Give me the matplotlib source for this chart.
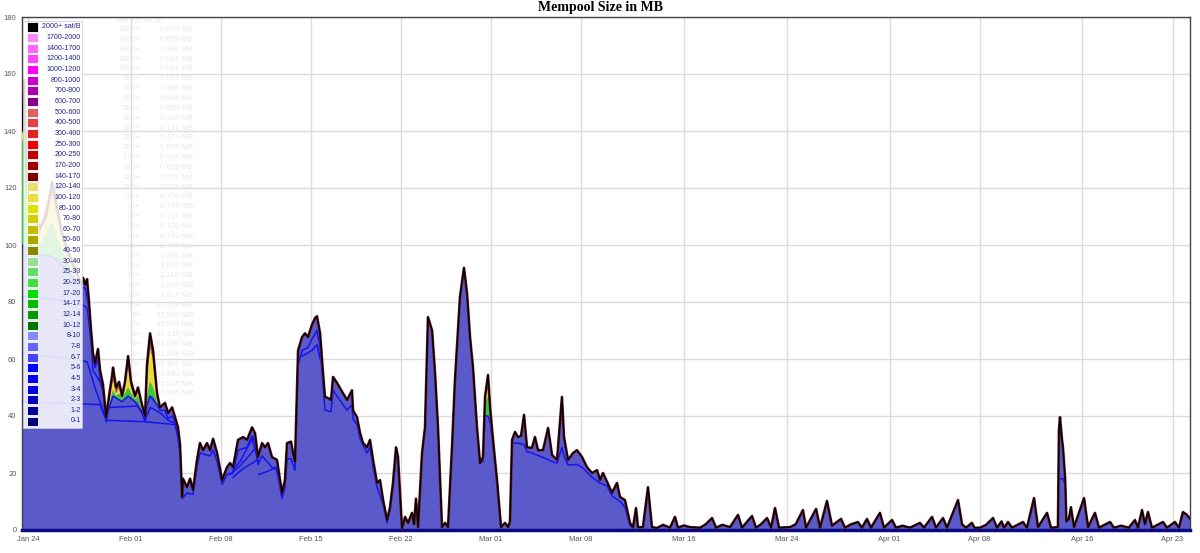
import numpy as np
import matplotlib
matplotlib.use("Agg")
import matplotlib.pyplot as plt
import matplotlib.dates as mdates
from matplotlib.patches import Rectangle
from datetime import datetime

# ---- data (days since 2018-01-24, MB) -------------------------------------
START = datetime(2018, 1, 24)

total_days = [
    -0.47, -0.31, -0.16, 0.00, 0.39, 0.93, 1.40, 1.87, 2.18, 2.64, 3.27, 3.89,
    4.12, 4.28, 4.43, 4.59, 4.74, 4.90, 5.05, 5.21, 5.37, 5.44, 5.60, 5.83,
    6.07, 6.30, 6.53, 6.61, 6.84, 7.08, 7.31, 7.54, 7.78, 8.01, 8.32, 8.55,
    8.86, 9.10, 9.25, 9.49, 9.72, 10.03, 10.26, 10.65, 10.89, 11.20, 11.43,
    11.66, 11.82, 11.98, 12.05, 12.36, 12.60, 12.83, 13.14, 13.37, 13.61,
    13.92, 14.15, 14.39, 14.70, 15.09, 15.47, 15.71, 15.94, 16.33, 16.72,
    17.03, 17.42, 17.65, 17.88, 18.20, 18.43, 18.66, 18.97, 19.36, 19.75,
    19.98, 20.14, 20.45, 20.61, 20.76, 21.00, 21.31, 21.54, 21.77, 22.08,
    22.32, 22.47, 22.71, 22.94, 23.09, 23.33, 23.56, 23.72, 24.03, 24.26,
    24.49, 24.81, 25.19, 25.27, 25.58, 25.82, 26.05, 26.36, 26.59, 26.83,
    27.14, 27.37, 27.61, 27.92, 28.15, 28.38, 28.62, 28.77, 29.08, 29.32,
    29.55, 29.86, 30.02, 30.17, 30.33, 30.64, 30.87, 31.10, 31.42, 31.65,
    31.88, 32.19, 32.43, 32.66, 32.97, 33.20, 33.59, 33.90, 34.14, 34.37,
    34.60, 34.91, 35.15, 35.38, 35.54, 35.77, 35.93, 36.16, 36.47, 36.78,
    37.09, 37.33, 37.48, 37.64, 37.87, 38.10, 38.34, 38.57, 38.80, 39.19,
    39.42, 39.66, 40.05, 40.44, 40.75, 41.14, 41.52, 41.68, 41.99, 42.38,
    42.69, 43.08, 43.47, 43.86, 44.25, 44.48, 44.71, 45.02, 45.41, 45.80,
    46.03, 46.42, 46.81, 47.05, 47.28, 47.43, 47.82, 48.21, 48.52, 48.91,
    49.38, 49.92, 50.31, 50.54, 51.00, 51.48, 52.26, 52.70, 53.19, 53.50,
    54.00, 54.59, 55.21, 55.52, 56.30, 56.61, 57.00, 57.47, 57.78, 58.09,
    58.40, 59.25, 59.70, 60.26, 60.50, 61.28, 61.59, 62.13, 62.52, 63.22,
    63.53, 64.00, 64.54, 64.85, 65.24, 65.55, 66.25, 66.56, 67.19, 67.50,
    68.00, 68.58, 69.36, 69.67, 70.30, 70.61, 71.15, 71.46, 72.32, 72.63,
    72.94, 73.40, 73.60, 74.03, 74.50, 75.04, 75.35, 75.70, 75.90, 76.21,
    76.52, 77.37, 77.68, 78.23, 78.54, 79.24, 79.55, 80.09, 80.17, 80.25,
    80.40, 80.48, 80.65, 80.75, 80.95, 81.10, 81.34, 82.12, 82.43, 82.97,
    83.28, 84.14, 84.45, 85.00, 85.60, 86.08, 86.31, 86.63, 86.86, 87.09,
    87.40, 88.26, 88.57, 89.19, 89.50, 89.81, 90.12, 90.36,
]
total_mb = [
    140, 158, 130, 118, 112, 106, 110, 122, 115, 104, 96, 89,
    86, 88.5, 86, 88, 80, 70, 62, 58.5, 62, 63.5, 56, 51,
    39.6, 47, 54, 57, 50, 52, 47, 52, 61, 52, 47, 50,
    44, 40, 58, 69, 63, 48, 43, 44.6, 41, 43, 39.6,
    36, 30, 11.6, 18, 15, 18, 14, 24.6, 30.5, 28,
    30.5, 28, 32, 27, 17.5, 22, 23.5, 22, 31.6, 32.6,
    31.6, 36, 34, 25.6, 30.5, 29, 30.5, 25.6, 24.6, 13,
    17.5, 30.5, 31, 27, 24, 63, 67.7, 69, 67.7, 72,
    74.4, 75, 69, 55, 46.7, 46.3, 45.6, 53.7, 51.6, 49.8,
    48, 45.6, 49, 42, 39.6, 34, 30.5, 29, 31.6, 24.6,
    16.5, 17.5, 10.5, 3.5, 8, 16.5, 29, 25.6, 0.5, 4.6,
    2.5, 6, 2, 11, 1, 27, 36, 74.7, 70, 55,
    36, 1, 2.5, 1, 29, 52.6, 81.8, 92, 83, 67.7,
    57, 36, 23.5, 25.6, 46.7, 54.4, 43, 31.6, 17.5, 1,
    2.5, 1, 3, 31.6, 34.4, 32.6, 33, 40.4, 29, 28.8,
    32.6, 28, 28, 35.8, 26.3, 24.6, 46.7, 32.6, 24.6, 27,
    28, 25.6, 22, 20, 21, 17.5, 20, 17, 13, 16.5,
    11.6, 10.5, 2.5, 1, 7.7, 1, 1, 15, 1, 0.7,
    1.8, 0.8, 4.6, 0.8, 1.6, 1, 0.8, 2, 4.2, 0.8,
    1.8, 1, 5.3, 0.8, 4.9, 0.8, 2, 4.2, 0.8, 7.7,
    0.8, 1, 2, 7, 0.8, 7.4, 0.8, 10.2, 1.5, 3.9,
    0.8, 2, 2.8, 0.8, 3.9, 0.8, 6, 0.8, 3.5, 0.8,
    1.5, 0.8, 2.5, 0.8, 4.6, 0.8, 4.2, 0.8, 10.5, 2,
    0.8, 2.5, 0.8, 0.8, 1.8, 4.2, 0.8, 3, 0.8, 2.8,
    0.8, 2.8, 0.8, 11.2, 1, 6, 0.8, 1, 35, 39.6,
    32, 29, 18, 3, 4, 8, 1, 11.2, 1, 6,
    0.8, 2.8, 0.8, 1.5, 0.8, 3.5, 0.8, 7, 2, 6.3,
    0.8, 2.8, 0.8, 2.8, 0.8, 6.3, 5.3, 4,
]

# colored fee layers on top of the blue bulk (NaN = gap between episodes)
nan = np.nan
layer_days = [-0.47, -0.31, -0.16, 0.00, 0.93, 1.87, 2.64, 3.27, 3.89, 4.12, 4.2,
              6.07, 6.30, 6.53, 6.61, 6.84, 7.08, 7.31, 7.54, 7.78, 8.01, 8.32,
              8.55, 8.86, 9.10, 9.25, 9.49, 9.72, 10.03, 10.26, 10.3,
              35.38, 35.54, 35.77, 35.93, 36.16]
under_10 = [100, 100, 98, 97, 96, 96, 95, 90, 86, 85, nan,
            38, 43, 46, 47, 46, 46, 45, 46, 47, 46, 45,
            45, 41, 38, 44, 47, 47, 44, 42, nan,
            25, 40, 40, 38, 30]
under_40 = [136, 138, 115, 108, 100, 108, 98, 92, 87, 85.5, nan,
            38.5, 44, 48, 49, 47, 48, 46, 48, 50, 48, 46,
            47, 42, 39, 47, 52, 50, 45, 42.5, nan,
            25, 44, 47, 41, 31]
under_140 = [140, 142, 118, 112, 104, 118, 102, 94, 88, 86, nan,
             39, 45, 51, 53, 48, 50, 46.5, 50, 58, 50, 46.5,
             48.5, 43, 39.5, 54, 64, 60, 46, 43, nan,
             25.3, 45.5, 53, 42.5, 31.3]
layer_total = [140, 158, 130, 118, 106, 122, 104, 96, 89, 86, nan,
               39.6, 47, 54, 57, 50, 52, 47, 52, 61, 52, 47,
               50, 44, 40, 58, 69, 63, 48, 43, nan,
               25.6, 46.7, 54.4, 43, 31.6]

# boundary lines between the low-fee bands (blue lines inside the bulk)
band_lines = [
    ([-0.47, 0.39, 1.87, 3.27, 3.89, 4.12, 4.43, 4.74, 4.90, 5.05, 5.21, 5.44,
      5.60, 5.83, 6.07, 6.30, 6.61, 7.31, 7.78, 8.32, 8.86, 9.10, 9.25, 9.49,
      10.03, 10.26, 10.65, 10.89, 11.20, 11.43, 11.66, 11.82, 11.98, 12.36,
      12.83, 13.14, 13.37, 14.15, 14.39, 14.70, 15.09, 15.47, 15.94, 16.33,
      17.03, 17.42, 17.65, 17.88, 18.20, 18.97, 19.36, 19.75, 19.98, 20.14,
      20.45, 20.76, 21.00, 21.31, 21.77, 22.08, 22.47, 22.71, 22.94, 23.09,
      23.56, 23.72, 24.49, 24.81, 25.19, 25.27, 25.58, 25.82, 26.36, 26.59,
      26.83, 27.14, 27.61, 27.92, 28.15, 28.38, 28.62, 28.77, 29.08],
     [100, 97, 96, 90, 86, 85, 85, 78, 68, 60, 57, 60,
      53, 49, 38, 43, 47, 45, 47, 45, 41, 38, 44, 47,
      44, 42, 42, 39, 40, 38, 34, 28, 11, 13,
      12.5, 22, 27, 26, 28, 24, 16, 19.5, 20, 28,
      29, 33, 31, 23, 26, 22, 21, 11, 15, 25,
      25, 21, 58, 63, 64, 67, 70, 64, 51, 42,
      41.5, 49, 44, 42, 44, 39, 37, 32, 27, 29,
      22, 15, 9, 2.5, 7, 15, 26, 24, 0.4]),
    ([35.38, 35.54, 35.77, 35.93, 36.16, 36.47, 36.78],
     [24, 40, 40, 38, 30, 16, 0.8]),
    ([37.64, 38.10, 38.57, 38.80, 39.19, 40.05, 40.75, 41.14, 41.52, 41.68,
      41.99, 42.69, 43.08, 43.86, 44.48, 45.02, 45.41, 46.03, 46.42, 46.81,
      47.05],
     [30.5, 30.5, 30, 27.5, 27, 25.5, 24, 23.5, 29, 26,
      22.8, 23, 22, 18.5, 16.5, 15.5, 12, 10, 8, 1.5, 0.7]),
    ([-0.47, 3.8, 4.6, 4.90, 5.05, 5.6, 5.83, 6.07],
     [82, 80, 78, 66, 56, 52, 48.5, 38.9]),
    ([-0.47, 3.5, 4.6, 5.2, 5.6, 6.07, 6.3, 8.55, 8.86, 9.10, 9.5, 10.3,
      10.89, 11.43, 11.66, 11.82],
     [62, 60, 59, 50, 45, 38.8, 43, 43.5, 41.5, 38.5, 43, 41,
      38.5, 37.5, 33, 27]),
    ([-0.47, 5.6, 6.07, 9.10, 11.43, 11.66, 11.82],
     [45, 44, 38.5, 38, 37, 32.5, 27]),
    ([15.94, 16.49, 17.42, 17.81], [21, 24, 32, 26]),
    ([15.71, 16.49, 17.65, 17.88], [19.5, 22.5, 28.5, 24]),
    ([15.94, 16.72, 17.81], [18.5, 21.5, 24.5]),
    ([17.95, 18.58, 19.28, 19.55], [19.5, 20.5, 22, 17]),
    ([21.31, 22.08, 22.47, 22.71], [61, 63, 65, 60]),
    ([80.17, 80.48, 80.65], [18, 18, 16]),
]

fee_bands = ["2000+ sat/B", "1700-2000", "1400-1700", "1200-1400", "1000-1200",
             "800-1000", "700-800", "600-700", "500-600", "400-500", "300-400",
             "250-300", "200-250", "170-200", "140-170", "120-140", "100-120",
             "80-100", "70-80", "60-70", "50-60", "40-50", "30-40", "25-30",
             "20-25", "17-20", "14-17", "12-14", "10-12", "8-10", "7-8", "6-7",
             "5-6", "4-5", "3-4", "2-3", "1-2", "0-1"]
band_colors = ["#000000", "#ff88ff", "#ff66ff", "#ff44ff", "#ff00ff",
               "#cc00cc", "#aa00aa", "#880088", "#e06060", "#e04444", "#e02222",
               "#ee0000", "#c00000", "#a00000", "#800000", "#e8e070", "#e8e040",
               "#e0e000", "#d0d000", "#c0c000", "#a8a800", "#888800", "#99dd99",
               "#66dd66", "#44dd44", "#00dd00", "#00bb00", "#009900", "#007700",
               "#8888ff", "#6666ff", "#4444ff", "#0000ff", "#0000ee", "#0000dd",
               "#0000bb", "#000099", "#000077"]

tooltip_time = "Jan 25, 06:30"
tooltip_keys = ["2000+", "1700+", "1400+", "1200+", "1000+", "800+", "700+",
                "600+", "500+", "400+", "300+", "250+", "200+", "170+", "140+",
                "120+", "100+", "80+", "70+", "60+", "50+", "40+", "30+",
                "25+", "20+", "17+", "14+", "12+", "10+", "8+", "7+", "6+",
                "5+", "4+", "3+", "2+", "1+", "0+"]
tooltip_vals = ["0.059", "0.059", "0.060", "0.061", "0.061", "0.064", "0.066",
                "0.048", "0.059", "0.104", "0.121", "0.174", "0.578", "0.598",
                "0.615", "0.561", "0.578", "0.700", "0.798", "0.711", "0.720",
                "0.742", "0.759", "0.851", "1.043", "1.110", "1.295", "1.617",
                "11.153", "32.992", "35.923", "41.139", "53.030", "61.958",
                "66.361", "70.881", "76.525", "84.565"]

tick_dates = ["2018-01-24", "2018-02-01", "2018-02-08", "2018-02-15",
              "2018-02-22", "2018-03-01", "2018-03-08", "2018-03-16",
              "2018-03-24", "2018-04-01", "2018-04-08", "2018-04-16",
              "2018-04-23"]

# ---- plot ------------------------------------------------------------------
W, H = 1200, 553
fig = plt.figure(figsize=(W / 100, H / 100), dpi=100)
ax = fig.add_axes([22 / W, 1 - 530 / H, (1190 - 22) / W, (530 - 17) / H])
ax.patch.set_alpha(0)

base = mdates.date2num(START)
tx = base + np.array(total_days)
ty = np.array(total_mb)
lx = base + np.array(layer_days)

BULK = "#5a5acb"
ax.fill_between(tx, 0, ty, color=BULK, lw=0, zorder=2)
ax.fill_between(lx, under_10, under_40, color="#33cc33", lw=0, zorder=3)
ax.fill_between(lx, under_40, under_140, color="#e6dc3a", lw=0, zorder=3)
ax.fill_between(lx, under_140, layer_total, color="#b8503a", lw=0, zorder=3)

for d, v in band_lines:
    ax.plot(base + np.array(d), v, color="#1414ee", lw=1.1, zorder=4)

ax.plot(tx, ty, color="#6b1b2b", lw=1.9, zorder=5)
ax.plot(tx, ty, color="black", lw=1.0, zorder=6)

ax.set_ylim(0, 180)
ax.set_xlim(base - 0.47, base + 90.36)
ax.set_yticks(np.arange(0, 181, 20))
ax.set_xticks([mdates.date2num(datetime.strptime(s, "%Y-%m-%d")) for s in tick_dates])
ax.xaxis.set_major_formatter(mdates.DateFormatter("%b %d"))
ax.tick_params(length=0, labelsize=5.4, colors="#555555", pad=4)
for lab in ax.get_xticklabels() + ax.get_yticklabels():
    lab.set_fontfamily("Liberation Sans")
ax.grid(True, color="#dcdcdc", lw=1, zorder=0)
ax.set_axisbelow(True)
for s in ("top", "left", "right"):
    ax.spines[s].set_color("#444444")
    ax.spines[s].set_linewidth(1)
ax.spines["bottom"].set_color("#0a0a80")
ax.spines["bottom"].set_linewidth(2.5)

fig.text(0.5, 1 - 8 / H, "Mempool Size in MB", ha="center", va="center",
         fontsize=10, fontweight="bold", family="Liberation Serif")


def fx(px):
    return px / W


def fy(py):
    return 1 - py / H


# faint hover tooltip sitting behind the chart
fig.text(fx(116), fy(20), tooltip_time, fontsize=5.6, color="#e8e8e8",
         family="Liberation Sans", va="center", zorder=-1)
for i, (k, v) in enumerate(zip(tooltip_keys, tooltip_vals)):
    yy = 29.5 + i * 9.85
    fig.text(fx(140), fy(yy), k, fontsize=5.6, color="#e8e8e8", ha="right",
             va="center", family="Liberation Sans", zorder=-1)
    fig.text(fx(193), fy(yy), v + " MB", fontsize=5.6, color="#e8e8e8",
             ha="right", va="center", family="Liberation Sans", zorder=-1)

# legend, drawn by hand: swatch column at left, labels right-aligned
fig.patches.append(Rectangle((fx(23), fy(428)), (82 - 23) / W, (428 - 21) / H,
                             transform=fig.transFigure, facecolor="white",
                             alpha=0.86, edgecolor="#cccccc", lw=0.6, zorder=10))
step = (421 - 27) / (len(fee_bands) - 1)
for i, (lab, c) in enumerate(zip(fee_bands, band_colors)):
    yc = 27 + i * step
    fig.patches.append(Rectangle((fx(27), fy(yc + 4.5)), 11 / W, 9 / H,
                                 transform=fig.transFigure, facecolor=c,
                                 edgecolor="white", lw=0.6, zorder=11))
    fig.text(fx(81), fy(yc), lab, ha="right", va="center", fontsize=5.1,
             color="#22228a", family="Liberation Sans", zorder=12)

fig.savefig("out.png", dpi=100)
